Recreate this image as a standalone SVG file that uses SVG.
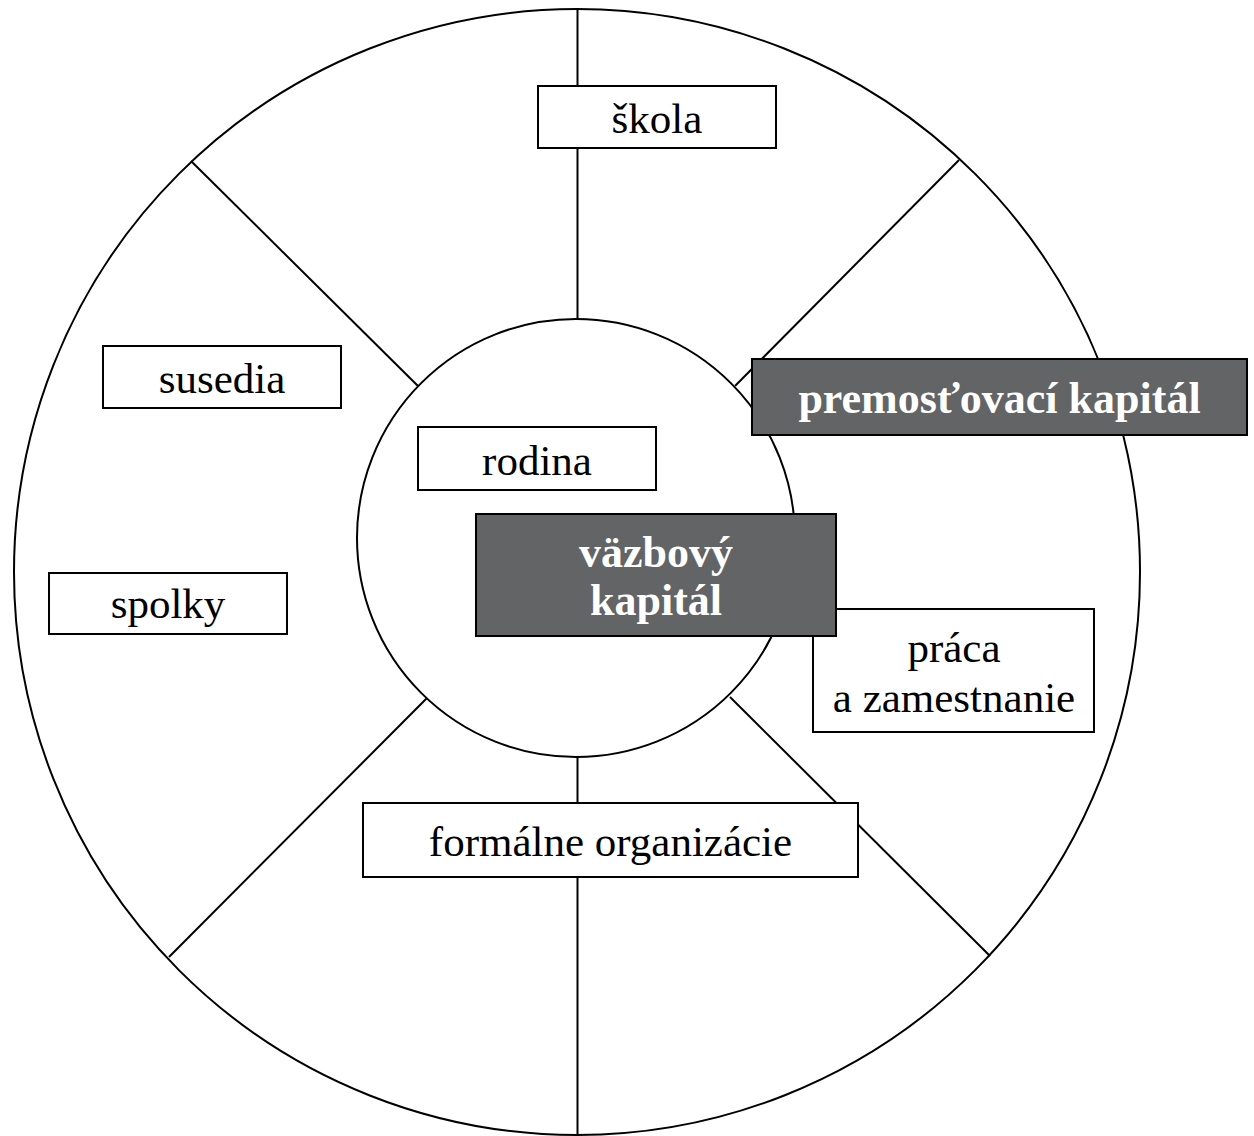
<svg xmlns="http://www.w3.org/2000/svg" width="1254" height="1136" viewBox="0 0 1254 1136">
<style>
.ln{fill:none;stroke:#000;stroke-width:2}
.box{fill:#fff;stroke:#000;stroke-width:2}
.dark{fill:#636466;stroke:#000;stroke-width:2}
.t{font-family:"Liberation Serif","DejaVu Serif",serif;font-size:43px;fill:#000;text-anchor:middle}
.tb{font-family:"Liberation Serif","DejaVu Serif",serif;font-size:44px;font-weight:bold;fill:#fff;text-anchor:middle}
</style>
<rect width="1254" height="1136" fill="#fff"/>
<g id="connectors">
<circle class="ln" cx="577" cy="572" r="563"/>
<circle class="ln" cx="576" cy="538" r="219"/>
<line class="ln" x1="577.5" y1="9" x2="577.5" y2="319"/>
<line class="ln" x1="577.5" y1="757" x2="577.5" y2="1135"/>
<line class="ln" x1="191" y1="161" x2="418" y2="386"/>
<line class="ln" x1="959" y1="160" x2="735" y2="386"/>
<line class="ln" x1="169" y1="957" x2="427" y2="698"/>
<line class="ln" x1="990" y1="956" x2="730" y2="697"/>
</g>
<g id="skola"><rect class="box" x="538" y="86" width="238" height="62"/><text class="t" x="657" y="133">škola</text></g>
<g id="susedia"><rect class="box" x="103" y="346" width="238" height="62"/><text class="t" x="222" y="393">susedia</text></g>
<g id="spolky"><rect class="box" x="49" y="573" width="238" height="61"/><text class="t" x="168" y="618">spolky</text></g>
<g id="rodina"><rect class="box" x="418" y="427" width="238" height="63"/><text class="t" x="537" y="475">rodina</text></g>
<g id="praca"><rect class="box" x="813" y="609" width="281" height="123"/><text class="t" x="954" y="662">práca</text><text class="t" x="954" y="712">a zamestnanie</text></g>
<g id="formalne"><rect class="box" x="363" y="803" width="495" height="74"/><text class="t" x="610.5" y="856">formálne organizácie</text></g>
<g id="premostovaci"><rect class="dark" x="752" y="359" width="495" height="76"/><text class="tb" x="999.5" y="413">premosťovací kapitál</text></g>
<g id="vazbovy"><rect class="dark" x="476" y="514" width="360" height="122"/><text class="tb" x="656" y="567">väzbový</text><text class="tb" x="656" y="615">kapitál</text></g>
</svg>
